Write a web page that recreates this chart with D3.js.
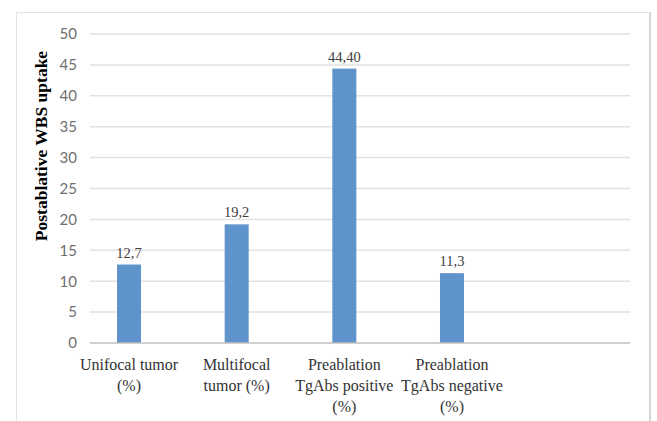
<!DOCTYPE html>
<html>
<head>
<meta charset="utf-8">
<script src="https://cdn.jsdelivr.net/npm/d3@7"></script>
<style>
  html, body { margin: 0; padding: 0; background: #fff; }
  svg { display: block; }
</style>
</head>
<body>
<svg id="chart" width="657" height="421"></svg>
<script>
// Chart data
const categories = [
  ["Unifocal tumor", "(%)"],
  ["Multifocal", "tumor (%)"],
  ["Preablation", "TgAbs positive", "(%)"],
  ["Preablation", "TgAbs negative", "(%)"]
];
const values = [12.7, 19.2, 44.4, 11.3];
const valueLabels = ["12,7", "19,2", "44,40", "11,3"];
const yTicks = [0, 5, 10, 15, 20, 25, 30, 35, 40, 45, 50];
const yTitle = "Postablative WBS uptake";

const svg = d3.select("#chart");
const W = 657, H = 421;
const margin = { left: 90, right: 27, top: 34, bottom: 78 };
const plotW = W - margin.left - margin.right;   // 540
const plotH = H - margin.top - margin.bottom;   // 309

// Frame around the chart area
svg.append("rect")
  .attr("x", 16.5).attr("y", 12.5)
  .attr("width", 633).attr("height", 420)
  .attr("fill", "#fff")
  .attr("stroke", "#e3e3e3").attr("stroke-width", 1);
svg.append("line")
  .attr("x1", 650).attr("x2", 650).attr("y1", 12).attr("y2", H)
  .attr("stroke", "#d6d6d6").attr("stroke-width", 2);

const g = svg.append("g").attr("transform", `translate(${margin.left},${margin.top})`);

// Bars occupy the left part of the plot; the right part stays empty
const x = d3.scaleBand()
  .domain(d3.range(categories.length))
  .range([0, 401])
  .paddingInner(0.777).paddingOuter(0.251);

const y = d3.scaleLinear().domain([0, 50]).range([plotH, 0]);

// Gridlines
g.append("g")
  .selectAll("line")
  .data(yTicks.filter(d => d > 0))
  .join("line")
  .attr("x1", 0).attr("x2", plotW)
  .attr("y1", d => y(d)).attr("y2", d => y(d))
  .attr("stroke", "#e2e2e2").attr("stroke-width", 1.5);

// Y axis labels
const yAxis = d3.axisLeft(y).tickValues(yTicks).tickSize(0).tickPadding(13);
const ya = g.append("g").call(yAxis);
ya.select(".domain").remove();
ya.selectAll("text")
  .attr("font-family", "Lato, sans-serif")
  .attr("font-size", 15)
  .attr("fill", "#6f6f6f");

// Bars
const data = values.map((v, i) => ({ i, v, label: valueLabels[i] }));
g.selectAll("rect.bar")
  .data(data)
  .join("rect")
  .attr("class", "bar")
  .attr("x", d => x(d.i))
  .attr("width", x.bandwidth())
  .attr("y", d => y(d.v))
  .attr("height", d => y(0) - y(d.v))
  .attr("fill", "#5f93cb");

// Value labels
g.selectAll("text.val")
  .data(data)
  .join("text")
  .attr("class", "val")
  .attr("x", d => x(d.i) + x.bandwidth() / 2)
  .attr("y", d => y(d.v) - 7)
  .attr("text-anchor", "middle")
  .attr("font-family", "'Liberation Serif', serif")
  .attr("font-size", 14.5)
  .attr("fill", "#404040")
  .text(d => d.label);

// X axis baseline
g.append("line")
  .attr("x1", 0).attr("x2", plotW)
  .attr("y1", y(0)).attr("y2", y(0))
  .attr("stroke", "#bfbfbf").attr("stroke-width", 1.5);

// Category labels
const catG = g.append("g").attr("transform", `translate(0,${plotH})`);
categories.forEach((lines, i) => {
  const t = catG.append("text")
    .attr("x", x(i) + x.bandwidth() / 2)
    .attr("y", 27)
    .attr("text-anchor", "middle")
    .attr("font-family", "'Liberation Serif', serif")
    .attr("font-size", 16)
    .attr("fill", "#333");
  lines.forEach((ln, k) => {
    t.append("tspan")
      .attr("x", x(i) + x.bandwidth() / 2)
      .attr("dy", k === 0 ? 0 : 21)
      .text(ln);
  });
});

// Y axis title
svg.append("text")
  .attr("transform", `translate(47,146) rotate(-90)`)
  .attr("text-anchor", "middle")
  .attr("font-family", "'Liberation Serif', serif")
  .attr("font-weight", "bold")
  .attr("font-size", 17.5)
  .attr("fill", "#000")
  .text(yTitle);
</script>
</body>
</html>
